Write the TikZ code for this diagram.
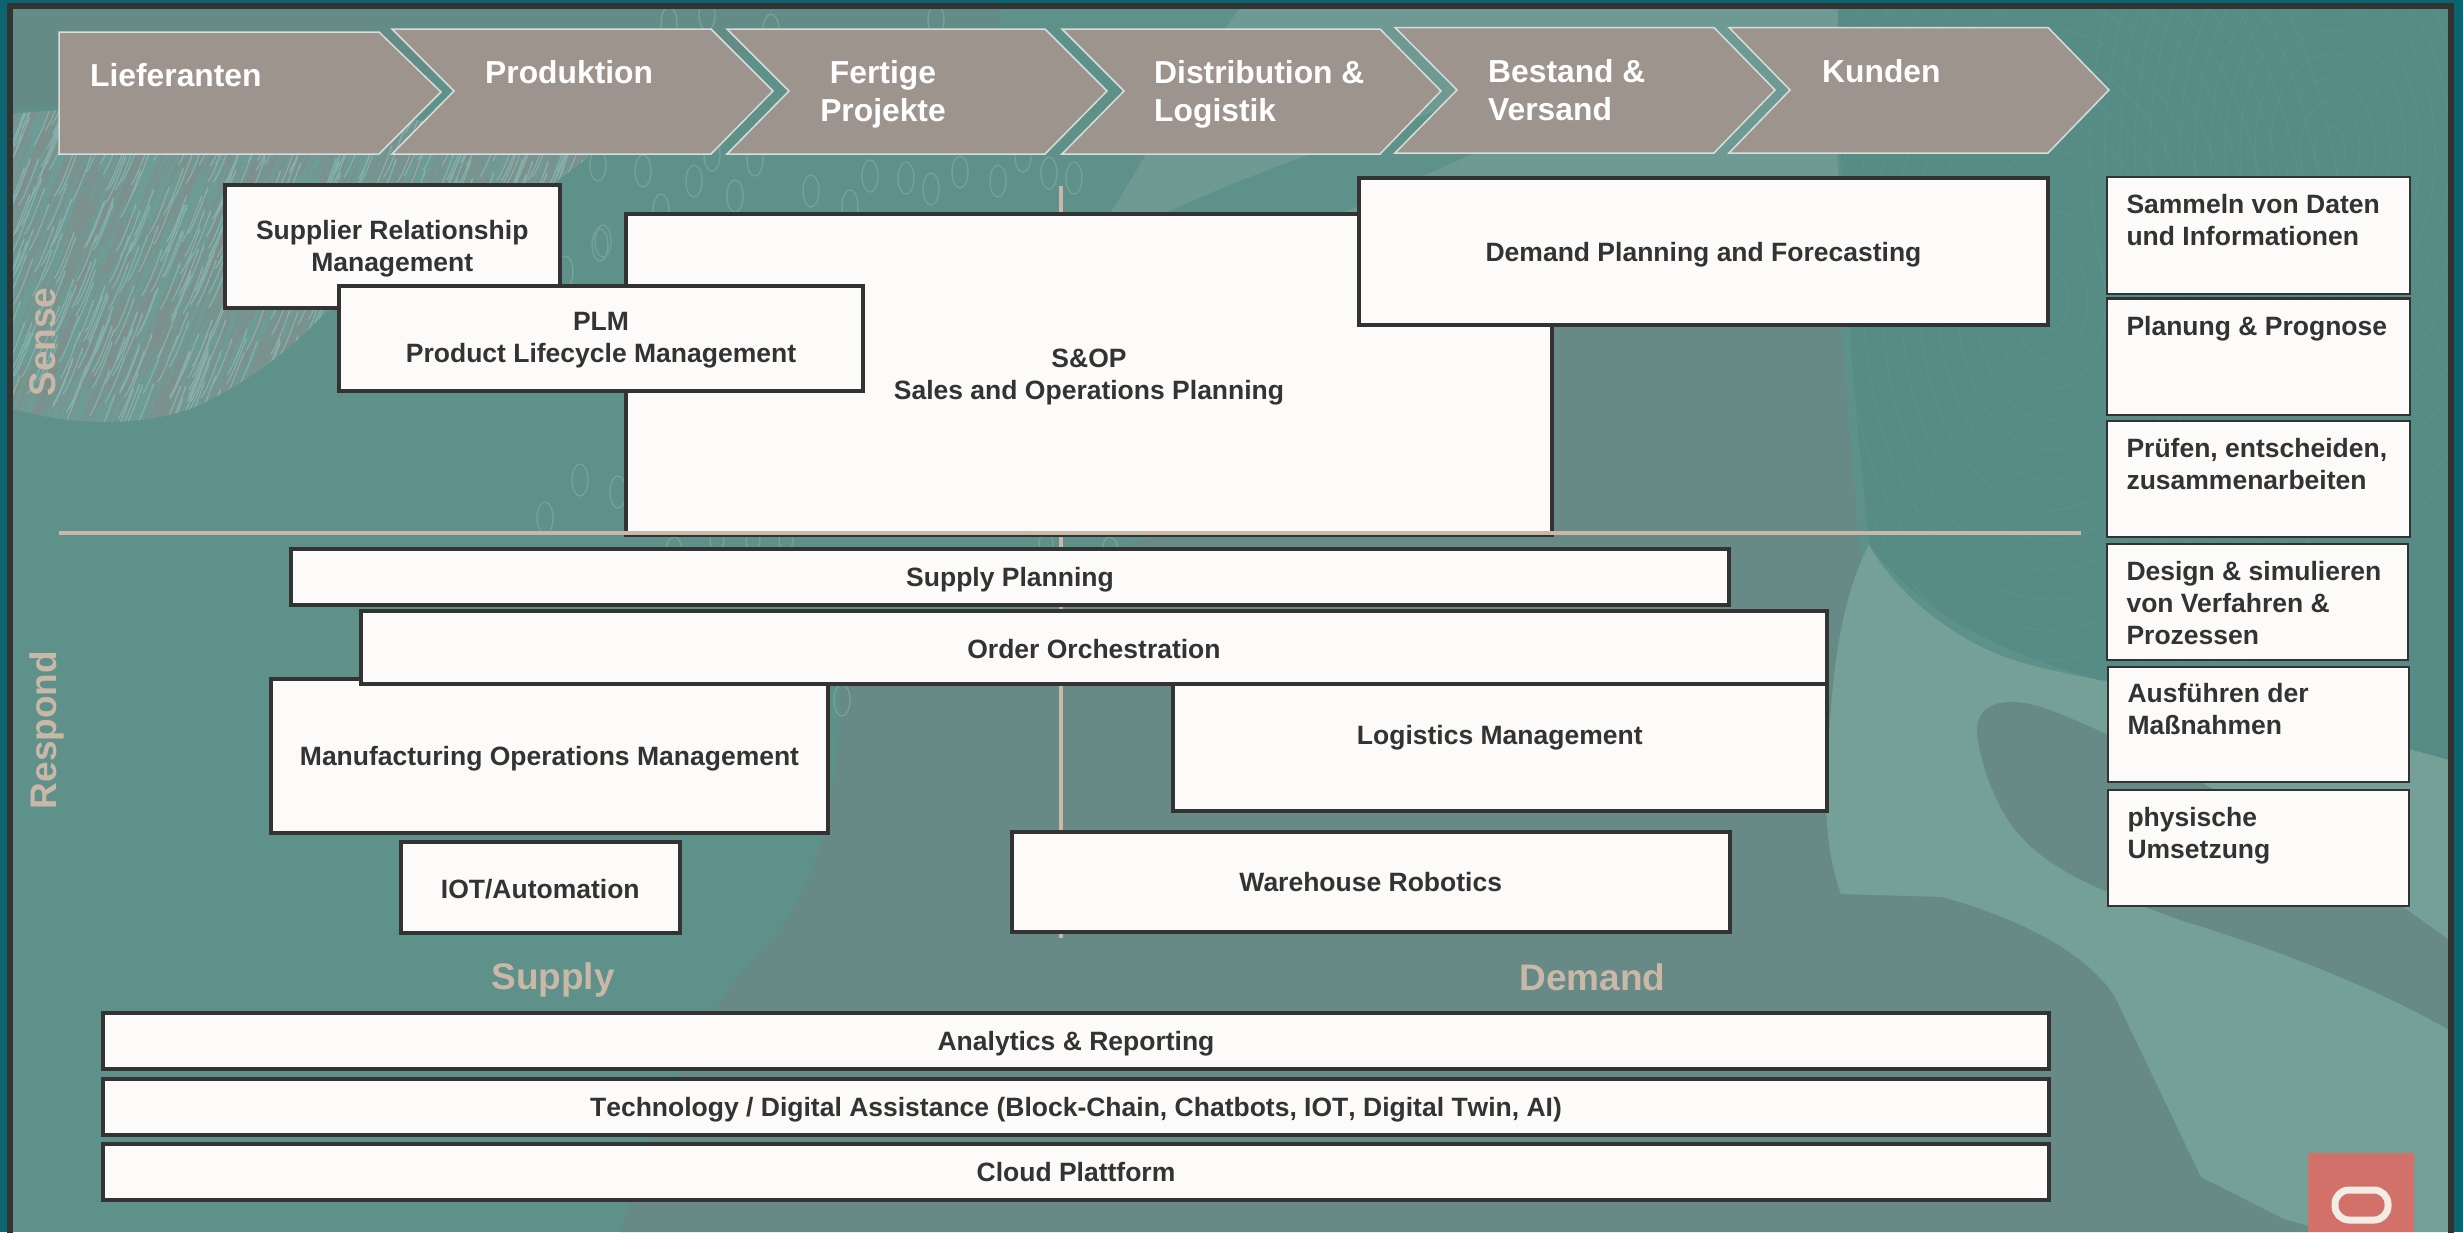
\documentclass[tikz,border=0pt]{standalone}
\usepackage{fontspec}
\setmainfont{Liberation Sans}
\definecolor{outerteal}{HTML}{0B6470}
\definecolor{basegreen}{HTML}{5E9189}
\definecolor{greygreen}{HTML}{678A86}
\definecolor{lightgreen}{HTML}{75A098}
\definecolor{lightband}{HTML}{6F9A94}
\definecolor{contourgreen}{HTML}{568C85}
\definecolor{contourline}{HTML}{649A92}
\definecolor{framecol}{HTML}{333333}
\definecolor{boxfill}{HTML}{FCFBF9}
\definecolor{chevfill}{HTML}{9E948E}
\definecolor{chevline}{HTML}{D5DEDA}
\definecolor{tanline}{HTML}{C9B8A8}
\definecolor{zerocol}{HTML}{76A098}
\definecolor{logored}{HTML}{D2706A}
\definecolor{ringcol}{HTML}{F3ECE4}
\definecolor{streakgrey}{HTML}{7F8F8C}
\definecolor{streaklight}{HTML}{86B0A9}
\definecolor{patchcol}{HTML}{6D9C95}
\tikzset{
  boxn/.style={draw=framecol,fill=boxfill,line width=4pt,inner sep=0pt,outer sep=0pt,text=framecol,
    font=\fontsize{26.5}{32}\selectfont\bfseries},
  sidebox/.style={draw=framecol,fill=boxfill,line width=2.5pt,inner sep=0pt,outer sep=0pt,text=framecol,
    font=\fontsize{26.5}{32}\selectfont\bfseries},
  chevshape/.style={draw=chevline,fill=chevfill,line width=1.5pt,line join=miter},
  chevtext/.style={text=white,inner sep=0pt,font=\fontsize{31.8}{38}\selectfont\bfseries},
  axislabel/.style={text=tanline,inner sep=0pt,font=\fontsize{37}{40}\selectfont\bfseries},
  tanrule/.style={draw=tanline,line width=4pt},
  zero/.style={draw=zerocol,line width=1.4pt,fill=none},
  contour/.style={draw=contourline,line width=1.1pt,opacity=.35}
}
% name, x1, y1, x2, y2, text, extra space above the text
\newcommand{\bx}[7]{%
  \pgfmathsetmacro{\cxx}{(#2+#4)/2}\pgfmathsetmacro{\cyy}{(#3+#5)/2}%
  \pgfmathsetmacro{\wdd}{#4-#2}\pgfmathsetmacro{\htt}{#5-#3}%
  \node[boxn,minimum width=\wdd pt,minimum height=\htt pt] (#1) at (\cxx,\cyy) {\parbox{\wdd pt}{\centering\vspace*{#7pt}#6}};}
\newcommand{\sbx}[7]{%
  \pgfmathsetmacro{\cxx}{(#2+#4)/2}\pgfmathsetmacro{\cyy}{(#3+#5)/2}%
  \pgfmathsetmacro{\wdd}{#4-#2}\pgfmathsetmacro{\htt}{#5-#3}%
  \node[sidebox] (#1) at (\cxx,\cyy) {\parbox[c][\htt pt][t]{\wdd pt}{\vspace*{#7pt}\leftskip=19.5pt\rightskip=0pt plus 1fil\parindent=0pt #6}};}
\begin{document}
\begin{tikzpicture}[x=1pt,y=-1pt]
\useasboundingbox (0,0) rectangle (2463,1232);
% ---- background ----
\fill[outerteal] (0,0) rectangle (2463,1232);
\fill[basegreen] (10,6) rectangle (2451,1232);
\begin{scope}
\clip (12,8) rectangle (2449,1232);
% top strip
\fill[greygreen,opacity=.75] (12,8) -- (1000,8) -- (1000,30) .. controls (700,60) and (300,80) .. (12,110) -- cycle;
% upper light area
\fill[lightband] (1240,8) -- (1850,8) .. controls (1830,100) and (1840,200) .. (1841,330) -- (1300,330) -- (1100,230) .. controls (1150,150) and (1200,60) .. (1240,8) -- cycle;
\fill[basegreen] (1161,215) .. controls (1300,150) and (1500,90) .. (1700,30) -- (1720,60) .. controls (1550,110) and (1400,190) .. (1280,240) -- cycle;
% contour region
\fill[contourgreen] (1838,8) -- (2449,8) -- (2449,760) -- (2100,680) .. controls (1990,650) and (1920,610) .. (1869,545)
  .. controls (1860,440) and (1840,300) .. (1838,8) -- cycle;
\begin{scope}
\clip (1838,8) -- (2449,8) -- (2449,760) -- (2100,680) .. controls (1990,650) and (1920,610) .. (1869,545)
  .. controls (1860,440) and (1840,300) .. (1838,8) -- cycle;
\foreach \r in {30,60,...,480}{
  \draw[contour] (2050,300) ellipse ({\r*0.62} and \r);
  \draw[contour] (2330,150) ellipse ({\r*0.5} and {\r*0.8});
}
\end{scope}
% grey middle
\fill[greygreen] (1400,326) -- (1841,326) -- (1860,560) -- (1826,817) -- (1841,894) -- (1943,897) .. controls (2040,925) and (2090,960) .. (2114,995)
  -- (2201,1177) -- (2284,1219) -- (2330,1232) -- (620,1232) .. controls (660,1100) and (700,1010) .. (780,930)
  .. controls (830,860) and (840,760) .. (840,690) .. controls (1000,600) and (1300,500) .. (1400,326) -- cycle;
% light shape
\fill[lightgreen] (1869,545) .. controls (1900,600) and (1960,640) .. (2000,655) .. controls (2060,680) and (2200,690) .. (2449,760)
  -- (2449,1232) -- (2330,1232) -- (2284,1219) -- (2201,1177) -- (2114,995) .. controls (2090,960) and (2040,925) .. (1943,897)
  -- (1841,894) .. controls (1825,850) and (1822,790) .. (1830,720) .. controls (1835,650) and (1845,590) .. (1869,545) -- cycle;
% grey oval and band
\fill[greygreen] (1977,733) .. controls (1975,700) and (2010,695) .. (2050,710) .. controls (2130,740) and (2300,830) .. (2449,940) -- (2449,1030)
  .. controls (2380,990) and (2280,950) .. (2180,920) .. controls (2100,890) and (2040,870) .. (2006,817) .. controls (1990,790) and (1980,760) .. (1977,733) -- cycle;
\fill[contourgreen,opacity=.5] (2410,600) -- (2449,600) -- (2449,700) -- (2410,680) -- cycle;
% hatched patch
\begin{scope}
\path[clip] (0,115) .. controls (200,95) and (450,110) .. (590,156) .. controls (480,240) and (400,290) .. (326,312)
  .. controls (280,360) and (240,385) .. (200,405) .. controls (140,430) and (60,425) .. (0,405) -- cycle;
\fill[patchcol] (0,90) rectangle (600,430);
\pgfmathsetseed{4711}
\foreach \i in {1,...,1500}{
  \pgfmathsetmacro{\ax}{rnd*620}\pgfmathsetmacro{\ay}{100+rnd*350}
  \draw[streakgrey,line width=1.5pt] (\ax,\ay) .. controls ++(12,-18) and ++(6,-26) .. ++(20,-46);
}
\foreach \i in {1,...,700}{
  \pgfmathsetmacro{\ax}{rnd*620}\pgfmathsetmacro{\ay}{100+rnd*350}
  \draw[streaklight,line width=1.2pt] (\ax,\ay) .. controls ++(10,-14) and ++(7,-24) .. ++(18,-40);
}
\end{scope}
% zero outlines
\foreach \zx/\zy in {643/171,694/181,735/196,811/191,870/176,906/178,931/189,960/172,850/206,669/23,707/15,771/30,936/20,
  600/245,618/492,598/165,603/241,580/480,545/518,565/272,661/210,712/155,755/160,1023/156,998/181,1074/178,1049/173,842/700}{
  \draw[zero] (\zx,\zy) ellipse (8 and 16);
}
\foreach \zx/\zy in {717/541,753/541,786/541,1046/543,674/546,1110/546}{
  \draw[zero] (\zx,\zy) ellipse (7 and 9);
}
\end{scope}
% frame
\draw[framecol,line width=6pt] (10,6) rectangle (2451,1250);
% ---- chevrons ----
\draw[chevshape] (59,32) -- (379,32) -- (441,92) -- (379,154) -- (59,154) -- cycle;
\draw[chevshape] (392,29) -- (711,29) -- (773,91) -- (711,154) -- (392,154) -- (454,91) -- cycle;
\draw[chevshape] (727,29) -- (1045,29) -- (1107,91) -- (1045,154) -- (727,154) -- (789,91) -- cycle;
\draw[chevshape] (1062,29) -- (1380,29) -- (1441,91) -- (1380,154) -- (1062,154) -- (1124,91) -- cycle;
\draw[chevshape] (1395,27.5) -- (1714,27.5) -- (1775,90) -- (1714,153) -- (1395,153) -- (1457,90) -- cycle;
\draw[chevshape] (1729,27.5) -- (2048,27.5) -- (2109,90) -- (2048,153) -- (1729,153) -- (1790,90) -- cycle;
\node[chevtext,anchor=west] (t1) at (90,75) {Lieferanten};
\node[chevtext,anchor=west] (t2) at (485,72) {Produktion};
\node[chevtext,align=center] (t3) at (883,94) {Fertige\\Projekte};
\node[chevtext,align=left,anchor=west] (t4) at (1154,94) {Distribution \&\\Logistik};
\node[chevtext,align=left,anchor=west] (t5) at (1488,90) {Bestand \&\\Versand};
\node[chevtext,anchor=west] (t6) at (1822,71) {Kunden};
% ---- axes ----
\coordinate (vtop) at (1061,186);
\coordinate (vbot) at (1061,938);
\coordinate (hleft) at (59,533);
\coordinate (hright) at (2081,533);
\draw[tanrule] (vtop) -- (vbot);
% ---- sense boxes ----
\bx{srm}{224.5}{184.5}{560}{307.5}{Supplier Relationship\\Management}{6}
\bx{sop}{626}{214}{1552}{535}{S\&OP\\Sales and Operations Planning}{6}
\draw[tanrule] (hleft) -- (hright);
\bx{plm}{339}{285.5}{863}{390.5}{PLM\\Product Lifecycle Management}{5}
\bx{dem}{1359}{178}{2048}{325}{Demand Planning and Forecasting}{7}
% ---- respond boxes ----
\bx{mfg}{271}{679}{828}{833}{Manufacturing Operations Management}{6}
\bx{log}{1172.5}{660}{1827}{810.5}{Logistics Management}{4}
\bx{sup}{291}{549}{1729}{605}{Supply Planning}{6}
\bx{ord}{361}{611}{1827}{684}{Order Orchestration}{3}
\bx{iot}{400.5}{842}{680}{933}{IOT/Automation}{3}
\bx{war}{1011.5}{832}{1730}{931.5}{Warehouse Robotics}{0}
% ---- base bars ----
\bx{ana}{103}{1013}{2049}{1069}{Analytics \& Reporting}{6}
\bx{tec}{103}{1079}{2049}{1135}{\addfontfeature{Kerning=Off}Technology / Digital Assistance (Block-Chain, Chatbots, IOT, Digital Twin, AI)}{6}
\bx{clo}{103}{1144}{2049}{1200}{Cloud Plattform}{0}
% ---- labels ----
\node[axislabel,rotate=90] (sense) at (43,342) {Sense};
\node[axislabel,rotate=90] (resp) at (47,730) {Respond};
\node[axislabel] (supl) at (553,980) {Supply};
\node[axislabel] (dmdl) at (1592.5,977) {Demand};
% ---- side boxes ----
\sbx{s1}{2107}{177}{2410}{294}{Sammeln von Daten und Informationen}{17}
\sbx{s2}{2107}{298.5}{2410}{415}{Planung \& Prognose}{18}
\sbx{s3}{2107}{421}{2410}{537}{Prüfen, entscheiden, zusammenarbeiten}{17}
\sbx{s4}{2107}{544}{2408}{660}{Design \& simulieren von Verfahren \& Prozessen}{17}
\sbx{s5}{2108}{667}{2409}{782}{Ausführen der Maßnahmen}{16}
\sbx{s6}{2108}{790}{2409}{906}{physische\\Umsetzung}{17}
% ---- logo ----
\fill[logored] (2308,1153) rectangle (2414,1232);
\draw[ringcol,line width=7pt,rounded corners=14pt] (2335,1190) rectangle (2388,1220);
\end{tikzpicture}
\end{document}
